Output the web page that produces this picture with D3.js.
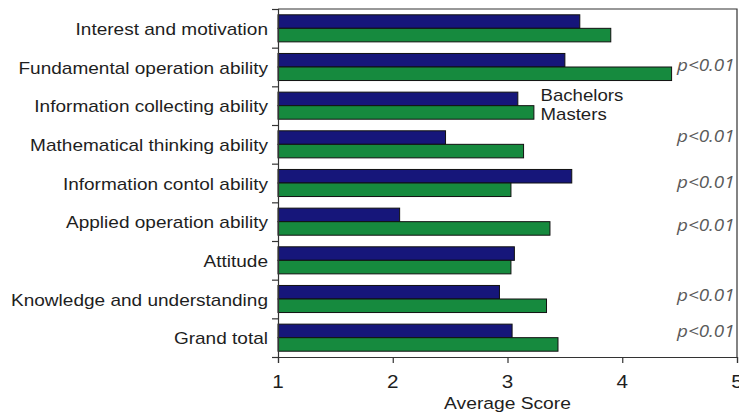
<!DOCTYPE html>
<html>
<head>
<meta charset="utf-8">
<script src="https://cdn.jsdelivr.net/npm/d3@7"></script>
<style>
  html, body { margin: 0; padding: 0; background: #fff; }
  svg { display: block; }
  text { font-family: "Liberation Sans", Arial, Helvetica, sans-serif; fill: #1e1e1e; }
  .pval { font-family: "Open Sans", sans-serif; font-style: italic; fill: #5a5a5a; }
</style>
</head>
<body>
<svg id="chart" width="739" height="415"></svg>
<script>
// Skill categories, top to bottom
const categories = [
  "Interest and motivation",
  "Fundamental operation ability",
  "Information collecting ability",
  "Mathematical thinking ability",
  "Information contol ability",
  "Applied operation ability",
  "Attitude",
  "Knowledge and understanding",
  "Grand total"
];
// Average scores per group
const bachelors = [3.63, 3.50, 3.09, 2.46, 3.56, 2.06, 3.06, 2.93, 3.04];
const masters   = [3.90, 4.43, 3.23, 3.14, 3.03, 3.37, 3.03, 3.34, 3.44];
// Categories with a significant group difference
const significant = [
  "Fundamental operation ability",
  "Mathematical thinking ability",
  "Information contol ability",
  "Applied operation ability",
  "Knowledge and understanding",
  "Grand total"
];
const xTicks = [1, 2, 3, 4, 5];
const seriesNames = ["Bachelors", "Masters"];

// Layout
const plotLeft = 278, plotRight = 737, plotTop = 9, plotBottom = 357;
const stretch = 1.18; // horizontally widened lettering
const colors = { Bachelors: "#16167a", Masters: "#168a3e" };
// small vertical nudges for the significance notes
const pNudge = {
  "Fundamental operation ability": -1,
  "Mathematical thinking ability": -7,
  "Information contol ability": 0,
  "Applied operation ability": 4,
  "Knowledge and understanding": -3,
  "Grand total": -6
};

const svg = d3.select("#chart");

const x = d3.scaleLinear().domain([1, 5]).range([plotLeft, plotRight]);
const y = d3.scaleBand().domain(categories).range([plotTop, plotBottom])
  .paddingInner(0.3).paddingOuter(0.15);
const ySub = d3.scaleBand().domain(seriesNames).range([0, y.bandwidth()]);
const yEdge = d3.scaleLinear().domain([0, categories.length]).range([plotTop, plotBottom]);

function label(parent, px, py, str, size, anchor, cls, sx) {
  return parent.append("text")
    .attr("class", cls || null)
    .attr("transform", `translate(${px},${py}) scale(${sx || stretch},1)`)
    .attr("text-anchor", anchor)
    .style("font-size", size + "px")
    .text(str);
}

// bars
const groups = svg.append("g").selectAll("g")
  .data(categories.map((c, i) => ({ c, vals: [bachelors[i], masters[i]] })))
  .join("g")
  .attr("transform", d => `translate(0,${y(d.c)})`);

groups.selectAll("rect")
  .data(d => d.vals.map((v, j) => ({ s: seriesNames[j], v })))
  .join("rect")
  .attr("x", x(1))
  .attr("y", d => ySub(d.s))
  .attr("width", d => x(d.v) - x(1))
  .attr("height", ySub.bandwidth())
  .attr("fill", d => colors[d.s])
  .attr("stroke", "#111")
  .attr("stroke-width", 1);

// frame top and right
svg.append("path")
  .attr("d", `M${plotLeft},${plotTop}H${plotRight}V${plotBottom}`)
  .attr("fill", "none").attr("stroke", "#333").attr("stroke-width", 1.2);

// left axis: ticks at category boundaries
const yAxis = svg.append("g").attr("transform", `translate(${plotLeft},0)`)
  .call(d3.axisLeft(yEdge).tickValues(d3.range(categories.length + 1))
    .tickSize(6).tickFormat(""));
yAxis.selectAll("path, line").attr("stroke", "#333").attr("stroke-width", 1.2);

// bottom axis
const xAxis = svg.append("g").attr("transform", `translate(0,${plotBottom})`)
  .call(d3.axisBottom(x).tickValues(xTicks).tickSize(6).tickFormat(""));
xAxis.selectAll("path, line").attr("stroke", "#333").attr("stroke-width", 1.2);

// category labels
categories.forEach(c => {
  label(svg, 268, y(c) + y.bandwidth() / 2 + 6.5, c, 17, "end", null, 1.12);
});

// tick labels
xTicks.forEach(t => label(svg, x(t), 388, String(t), 17.5, "middle"));

// axis title
label(svg, (plotLeft + plotRight) / 2, 408.5, "Average Score", 16.3, "middle");

// legend
label(svg, 540.5, 100.5, seriesNames[0], 15.8, "start");
label(svg, 540.5, 120, seriesNames[1], 15.8, "start");

// significance notes
significant.forEach(c => {
  label(svg, 677, y(c) + y.bandwidth() / 2 + 5 + pNudge[c], "p<0.01", 16, "start", "pval");
});
</script>
</body>
</html>
